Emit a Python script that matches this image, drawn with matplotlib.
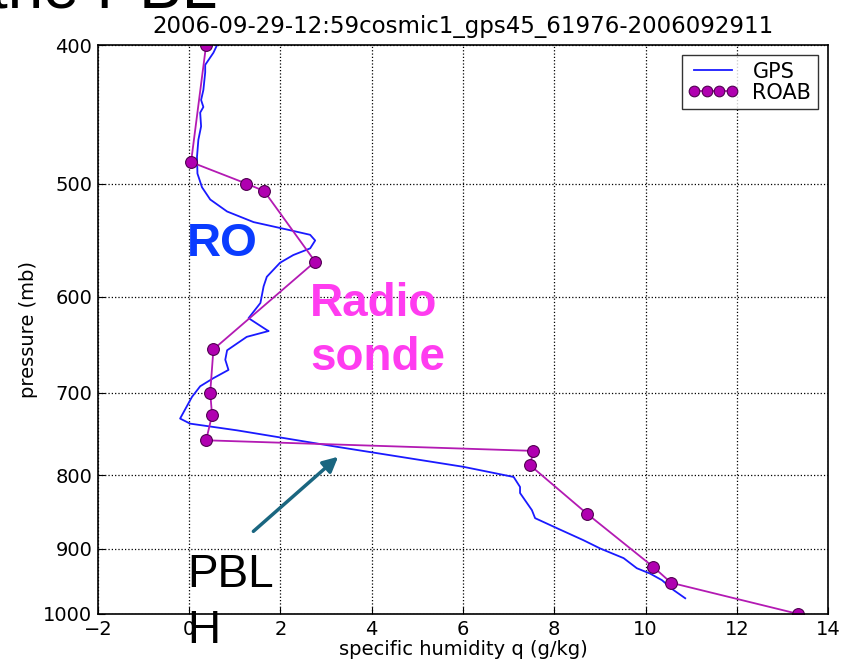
import matplotlib
matplotlib.use("Agg")
import matplotlib.pyplot as plt

# GPS (radio occultation) profile
gps_q = [0.61, 0.53, 0.35, 0.35, 0.31, 0.26, 0.31, 0.24, 0.26, 0.20, 0.17, 0.18,
         0.28, 0.46, 0.83, 1.41, 2.21, 2.65, 2.76, 2.65, 2.28, 1.99, 1.70, 1.63,
         1.56, 1.30, 1.70, 1.74, 1.26, 0.83, 0.79, 0.86, 0.53, 0.24, 0.06, -0.20,
         0.02, 1.05, 3.24, 6.01, 7.11, 7.25, 7.25, 7.51, 7.58, 8.06, 8.64, 9.01,
         9.52, 9.81, 10.10, 10.36, 10.61, 10.87]
gps_p = [400, 405, 413, 418, 430, 437, 442, 446, 456, 466, 479, 492,
         503, 513, 523, 532, 539, 543, 548, 555, 561, 568, 581, 590,
         606, 621, 633, 634, 640, 654, 664, 675, 684, 693, 705, 730,
         736, 744, 764, 789, 802, 815, 823, 846, 857, 871, 888, 900,
         914, 929, 937, 947, 962, 975]

# radiosonde profile
roab_q = [0.37, 0.04, 1.25, 1.64, 2.76, 0.53, 0.46, 0.50, 0.37, 7.54, 7.47,
          8.72, 10.17, 10.56, 13.35]
roab_p = [400, 483, 500, 506, 567, 653, 700, 726, 756, 769, 787,
          851, 927, 951, 1000]

yticks = [400, 500, 600, 700, 800, 900, 1000]
xticks = [-2, 0, 2, 4, 6, 8, 10, 12, 14]

fig = plt.figure(figsize=(8.49, 6.67), dpi=100)
ax = fig.add_axes([0.1154, 0.0795, 0.8599, 0.853])

ax.plot(gps_q, gps_p, color='#1a1aff', lw=1.3, label='GPS')
ax.plot(roab_q, roab_p, color='#b31ab3', lw=1.3, marker='o', markersize=8.5,
        markerfacecolor='#b000b0', markeredgecolor='#500050', markeredgewidth=0.8,
        label='ROAB')

ax.set_yscale('log')
ax.set_ylim(1000, 400)
ax.set_xlim(-2, 14)
ax.set_yticks(yticks)
ax.set_yticklabels([str(t) for t in yticks])
ax.minorticks_off()
ax.set_xticks(xticks)
ax.tick_params(direction='in', labelsize=14, pad=4, length=5)
ax.grid(True, color='black', linestyle=':', linewidth=0.9)
for s in ax.spines.values():
    s.set_linewidth(1.2)

ax.set_xlabel('specific humidity q (g/kg)', fontsize=14, labelpad=1)
ax.set_ylabel('pressure (mb)', fontsize=14, labelpad=4)
ax.set_title('2006-09-29-12:59cosmic1_gps45_61976-2006092911', fontsize=16.5, pad=9)

leg = ax.legend(loc='upper right', numpoints=4, fontsize=15, fancybox=False,
                handlelength=2.4, borderpad=0.3, labelspacing=0.05,
                handletextpad=0.7, borderaxespad=0.5, markerscale=0.9)
leg.get_frame().set_edgecolor('black')
leg.get_frame().set_linewidth(1.0)

# overlay annotations
ax.text(-0.05, 562, 'RO', color='#0a3cff', fontsize=34, fontweight='bold',
        family='Liberation Sans')
ax.text(2.65, 619, 'Radio', color='#ff3cf0', fontsize=33, fontweight='bold',
        family='Liberation Sans')
ax.text(2.65, 675, 'sonde', color='#ff3cf0', fontsize=33, fontweight='bold',
        family='Liberation Sans')
ax.text(-0.05, 957, 'PBL', color='black', fontsize=33, family='Liberation Sans')
ax.text(-0.05, 1048, 'H', color='black', fontsize=33, family='Liberation Sans',
        clip_on=False)
ax.annotate('', xy=(3.31, 774), xytext=(1.36, 878),
            arrowprops=dict(arrowstyle='-|>,head_length=0.9,head_width=0.45',
                            color='#1a6680', lw=2.5))
fig.text(-0.012, 0.9895, 'the PBL', fontsize=46, color='black',
         family='Liberation Sans', va='baseline')

fig.savefig('out.png', dpi=100)
